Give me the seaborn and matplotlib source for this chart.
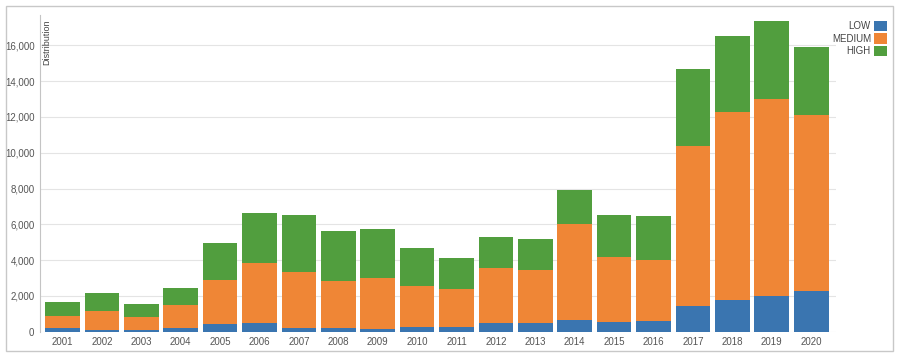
# Stacked bar chart of yearly distribution by severity level
import matplotlib
matplotlib.use('Agg')
import matplotlib.pyplot as plt
from matplotlib.patches import Patch, Rectangle
import seaborn as sns

# values
years = ['2001', '2002', '2003', '2004', '2005', '2006', '2007', '2008', '2009', '2010',
         '2011', '2012', '2013', '2014', '2015', '2016', '2017', '2018', '2019', '2020']
low = [190, 110, 80, 190, 430, 500, 210, 190, 170, 260,
       260, 490, 490, 640, 560, 615, 1440, 1775, 2015, 2295]
medium = [705, 1050, 760, 1320, 2465, 3330, 3150, 2650, 2840, 2280,
          2130, 3095, 2985, 5355, 3605, 3385, 8920, 10490, 11000, 9820]
high = [785, 990, 695, 950, 2035, 2800, 3140, 2780, 2725, 2110,
        1755, 1680, 1720, 1945, 2330, 2480, 4335, 4280, 4330, 3785]
levels = ['LOW', 'MEDIUM', 'HIGH']
colors = ['#3a75b0', '#ef8636', '#519e3e']

sns.set_style('white')
plt.rcParams['font.family'] = ['Liberation Sans', 'DejaVu Sans']

# cumulative tops so the bars can be overlaid back to front
low_top = low
med_top = [a + b for a, b in zip(low, medium)]
high_top = [a + b for a, b in zip(med_top, high)]

fig = plt.figure(figsize=(9.05, 3.57), dpi=100)
ax = fig.add_axes([40 / 905, 25.3 / 357, 796 / 905, 316.7 / 357])

for tops, col in zip([high_top, med_top, low_top], colors[::-1]):
    sns.barplot(x=years, y=tops, color=col, saturation=1, width=0.88,
                linewidth=0, ax=ax, zorder=2)

ax.set_ylim(0, 17700)
ax.set_xlim(-0.57, 19.63)
ax.set_yticks(range(0, 16001, 2000))
ax.set_yticklabels(['{:,}'.format(v) for v in range(0, 16001, 2000)])
ax.yaxis.grid(True, color='#e4e4e4', linewidth=0.8, zorder=0)
ax.set_axisbelow(True)
for side in ['top', 'right', 'bottom']:
    ax.spines[side].set_visible(False)
ax.spines['left'].set_color('#c4c4c4')
ax.tick_params(axis='y', length=3, color='#c4c4c4', labelsize=7, labelcolor='#555555', pad=1)
ax.tick_params(axis='x', length=0, labelsize=7, labelcolor='#555555', pad=4)
ax.set_xlabel('')
ax.set_ylabel('')
ax.text(0.003, 0.985, 'Distribution', transform=ax.transAxes, rotation=90,
        ha='left', va='top', fontsize=6.5, color='#444444')

handles = [Patch(facecolor=c, edgecolor='none') for c in colors]
fig.legend(handles, levels, loc='upper right', bbox_to_anchor=(887 / 905, 1 - 21 / 357),
           frameon=False, markerfirst=False, fontsize=7, handlelength=1.35, handleheight=1.25,
           handletextpad=0.3, labelspacing=0.2, borderpad=0, borderaxespad=0,
           labelcolor='#444444')

# light frame around the whole chart
fig.patches.append(Rectangle((6 / 905, 6 / 357), 887 / 905, 345 / 357, transform=fig.transFigure,
                             fill=False, edgecolor='#c8c8c8', linewidth=1))

fig.savefig('out.png', dpi=100)
